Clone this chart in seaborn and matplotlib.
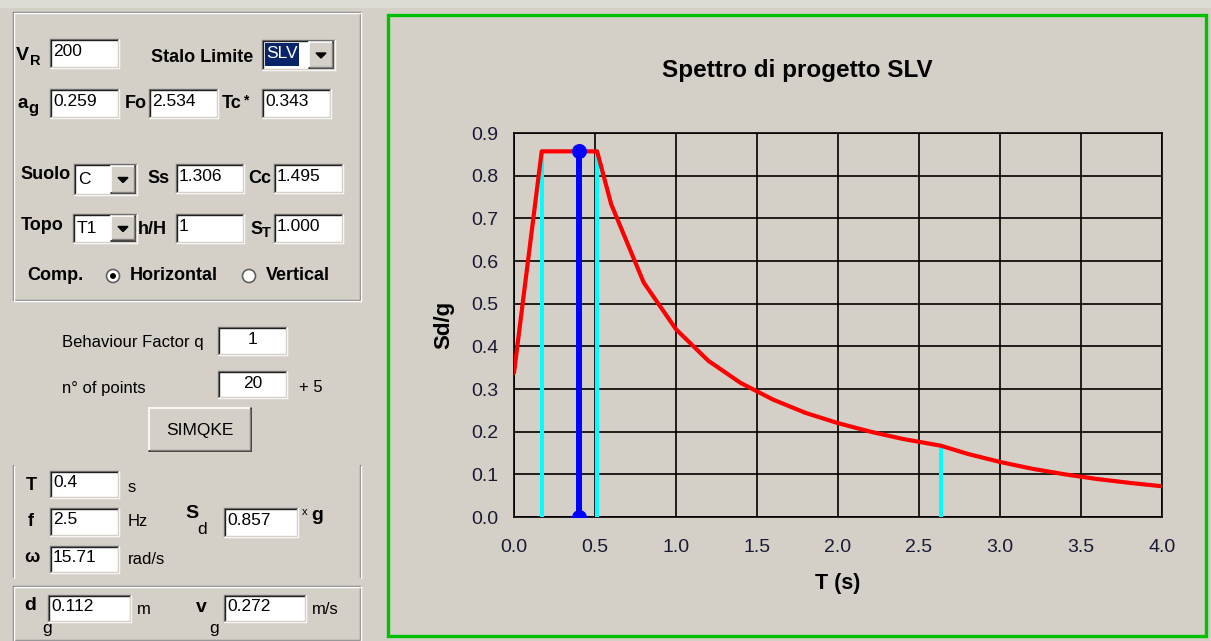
import matplotlib
matplotlib.use("Agg")
import matplotlib.pyplot as plt
import matplotlib.patches as mpatches
from matplotlib.lines import Line2D
import seaborn as sns
import pandas as pd

# ---------------- data ----------------
T_spec = [0.0, 0.171, 0.513, 0.6, 0.8, 1.0, 1.2, 1.4, 1.6, 1.8, 2.0, 2.2, 2.4,
          2.636, 2.8, 3.0, 3.2, 3.4, 3.6, 3.8, 4.0]
Sd_spec = [0.338, 0.857, 0.857, 0.733, 0.550, 0.440, 0.366, 0.314, 0.275, 0.244,
           0.220, 0.200, 0.183, 0.167, 0.148, 0.129, 0.113, 0.100, 0.089, 0.080, 0.072]
corner_T = [0.171, 0.513, 2.636]
corner_Sd = [0.857, 0.857, 0.167]
sel_T = [0.4, 0.4]
sel_Sd = [0.0, 0.857]
x_ticks = [0.0, 0.5, 1.0, 1.5, 2.0, 2.5, 3.0, 3.5, 4.0]
y_ticks = [0.0, 0.1, 0.2, 0.3, 0.4, 0.5, 0.6, 0.7, 0.8, 0.9]

BG = "#D4D0C8"
sns.set_style("white", {"axes.facecolor": BG, "figure.facecolor": BG,
                        "text.color": "black", "axes.labelcolor": "black"})
plt.rcParams["font.family"] = ["Liberation Sans", "DejaVu Sans"]
plt.rcParams["text.color"] = "black"
plt.rcParams["axes.labelcolor"] = "black"
plt.rcParams["axes.titlecolor"] = "black"

W, H = 1211, 641
fig = plt.figure(figsize=(W / 100, H / 100), dpi=100, facecolor=BG)

def fx(x):
    return x / W

def fy(y):
    return 1 - y / H

def rect(x0, y0, x1, y1, fc="none", ec="none", lw=1.0, z=1):
    r = mpatches.Rectangle((fx(x0), fy(y1)), (x1 - x0) / W, (y1 - y0) / H,
                           transform=fig.transFigure, facecolor=fc,
                           edgecolor=ec, linewidth=lw, zorder=z)
    fig.add_artist(r)

def line(xs, ys, c, lw=1.0, z=2):
    fig.add_artist(Line2D([fx(v) for v in xs], [fy(v) for v in ys],
                          transform=fig.transFigure, color=c, linewidth=lw, zorder=z))

def txt(x, y, s, size=12, bold=False, ha="left", color="black", z=5, **kw):
    fig.text(fx(x), fy(y), s, fontsize=size, fontweight="bold" if bold else "normal",
             ha=ha, va="center", color=color, zorder=z, **kw)

def sunken(x0, y0, x1, y1, fc="white"):
    rect(x0, y0, x1, y1, fc=fc, z=2)
    line([x0, x1], [y0, y0], "#808080", 1.0, 3)
    line([x0, x0], [y0, y1], "#808080", 1.0, 3)
    line([x0 + 1, x1 - 1], [y0 + 1, y0 + 1], "#202020", 1.0, 3)
    line([x0 + 1, x0 + 1], [y0 + 1, y1 - 1], "#202020", 1.0, 3)
    line([x0, x1], [y1, y1], "#FFFFFF", 1.0, 3)
    line([x1, x1], [y0, y1], "#FFFFFF", 1.0, 3)
    line([x0 + 1, x1 - 1], [y1 - 1, y1 - 1], BG, 1.0, 3)
    line([x1 - 1, x1 - 1], [y0 + 1, y1 - 1], BG, 1.0, 3)

def raised(x0, y0, x1, y1):
    rect(x0, y0, x1, y1, fc=BG, z=3)
    line([x0, x1], [y0, y0], "#FFFFFF", 1.2, 4)
    line([x0, x0], [y0, y1], "#FFFFFF", 1.2, 4)
    line([x0, x1], [y1, y1], "#202020", 1.2, 4)
    line([x1, x1], [y0, y1], "#202020", 1.2, 4)
    line([x0 + 1, x1 - 1], [y1 - 1.5, y1 - 1.5], "#808080", 1.0, 4)
    line([x1 - 1.5, x1 - 1.5], [y0 + 1, y1 - 1], "#808080", 1.0, 4)

def edit(x0, y0, x1, y1, s, center=False, size=12.5):
    sunken(x0, y0, x1, y1)
    if center:
        txt((x0 + x1) / 2, (y0 + y1) / 2 - 1, s, size=size, ha="center")
    else:
        txt(x0 + 3, (y0 + y1) / 2 - 2, s, size=size)

def combo(x0, y0, x1, y1, s, selected=False):
    sunken(x0, y0, x1, y1)
    bx0 = x1 - 26
    raised(bx0, y0 + 2, x1 - 2, y1 - 2)
    cx, cy = (bx0 + x1 - 2) / 2, (y0 + y1) / 2
    tri = mpatches.Polygon([(fx(cx - 5), fy(cy - 2)), (fx(cx + 5), fy(cy - 2)),
                            (fx(cx), fy(cy + 3))], closed=True,
                           transform=fig.transFigure, facecolor="black",
                           edgecolor="black", zorder=6)
    fig.add_artist(tri)
    if selected:
        rect(x0 + 3, y0 + 3, bx0 - 10, y1 - 4, fc="#0A246A", z=4)
        txt(x0 + 4, (y0 + y1) / 2 - 1, s, size=12.5, color="white")
    else:
        txt(x0 + 4, (y0 + y1) / 2, s, size=12.5)

def groupbox(x0, y0, x1, y1, sides="ltrb"):
    for col, off in (("#808080", 0), ("#FFFFFF", 1)):
        if "t" in sides:
            line([x0 + off, x1 + off], [y0 + off, y0 + off], col, 1.0, 2)
        if "b" in sides:
            line([x0 + off, x1 + off], [y1 + off, y1 + off], col, 1.0, 2)
        if "l" in sides:
            line([x0 + off, x0 + off], [y0 + off, y1 + off], col, 1.0, 2)
        if "r" in sides:
            line([x1 + off, x1 + off], [y0 + off, y1 + off], col, 1.0, 2)

def radio(cx, cy, selected):
    c = mpatches.Ellipse((fx(cx), fy(cy)), 13 / W, 13 / H, transform=fig.transFigure,
                         facecolor="white", edgecolor="#606060", linewidth=1.2, zorder=4)
    fig.add_artist(c)
    if selected:
        d = mpatches.Ellipse((fx(cx), fy(cy)), 4.5 / W, 4.5 / H, transform=fig.transFigure,
                             facecolor="black", edgecolor="black", zorder=5)
        fig.add_artist(d)

# top light strip
rect(0, 0, W, 8, fc="#DEDBD5", z=0)

# ---------------- left panel ----------------
LB = 13
groupbox(13, 12, 360, 300)
txt(16, 56, "V", size=14, bold=True)
txt(30, 61, "R", size=10.5, bold=True)
edit(50, 39, 119, 68, "200")
txt(151, 57, "Stalo Limite", size=LB, bold=True)
combo(262, 40, 335, 70, "SLV", selected=True)

txt(17, 103, "a", size=13.5, bold=True)
txt(28, 109, "g", size=12, bold=True)
edit(50, 89, 119, 118, "0.259")
txt(125, 104, "Fo", size=LB, bold=True)
edit(149, 89, 218, 118, "2.534")
txt(222, 104, "Tc", size=LB, bold=True)
txt(243, 100, "*", size=10, bold=True)
edit(262, 89, 331, 118, "0.343")

txt(20, 175, "Suolo", size=LB, bold=True)
combo(74, 164, 137, 195, "C")
txt(147, 178, "Ss", size=LB, bold=True)
edit(176, 164, 244, 193, "1.306")
txt(248, 178, "Cc", size=LB, bold=True)
edit(274, 164, 343, 193, "1.495")

txt(21, 226, "Topo", size=LB, bold=True)
combo(73, 214, 137, 243, "T1")
txt(138, 229, "h/H", size=LB, bold=True)
edit(176, 214, 244, 243, "1")
txt(250, 229, "S", size=LB, bold=True)
txt(262, 233, "T", size=10.5, bold=True)
edit(274, 214, 343, 243, "1.000")

txt(27, 276, "Comp.", size=LB, bold=True)
radio(113, 276, True)
txt(130, 276, "Horizontal", size=LB, bold=True)
radio(249, 276, False)
txt(266, 276, "Vertical", size=LB, bold=True)

txt(62, 343, "Behaviour Factor q", size=12)
edit(218, 327, 287, 355, "1", center=True)
txt(62, 388, "n\u00b0 of points", size=12)
edit(218, 371, 287, 398, "20", center=True)
txt(299, 388, "+ 5", size=12)

raised(149, 408, 251, 451)
txt(200, 430, "SIMQKE", size=12.5, ha="center")

groupbox(13, 465, 360, 577, sides="lr")
txt(26, 485, "T", size=13, bold=True)
edit(50, 471, 119, 498, "0.4")
txt(128, 488, "s", size=12)
txt(28, 522, "f", size=13, bold=True)
edit(50, 508, 119, 536, "2.5")
txt(128, 522, "Hz", size=12)
txt(185, 514, "S", size=14, bold=True)
txt(197, 529, "d", size=12.5)
edit(224, 508, 298, 537, "0.857")
txt(302, 512, "x", size=8)
txt(311, 515, "g", size=14, bold=True)
txt(24, 558, "\u03c9", size=13, bold=True)
edit(50, 546, 119, 573, "15.71")
txt(128, 560, "rad/s", size=12)

groupbox(13, 586, 360, 640)
txt(24, 606, "d", size=14, bold=True)
txt(42, 629, "g", size=12.5)
edit(48, 595, 131, 622, "0.112")
txt(137, 610, "m", size=12)
txt(196, 607, "v", size=14, bold=True)
txt(209, 629, "g", size=12.5)
edit(224, 595, 306, 622, "0.272")
txt(312, 610, "m/s", size=12)

# ---------------- chart frame ----------------
rect(388, 15, 1206, 636, fc="none", ec="#00C000", lw=2.4, z=1)

ax = fig.add_axes([fx(514), fy(517), 648 / W, 384 / H])
ax.set_facecolor(BG)
ax.set_axisbelow(True)

df_spec = pd.DataFrame({"T": T_spec, "Sd": Sd_spec})
for t, s in zip(corner_T, corner_Sd):
    sns.lineplot(x=[t, t], y=[0, s], ax=ax, color="#00FFFF", linewidth=2.9,
                 estimator=None, sort=False, zorder=3)
sns.lineplot(data=df_spec, x="T", y="Sd", ax=ax, color="#FF0000", linewidth=3.0,
             estimator=None, sort=False, zorder=4)
sns.lineplot(x=sel_T, y=sel_Sd, ax=ax, color="#0000FF", linewidth=4.3,
             estimator=None, sort=False, marker="o", markersize=10,
             markeredgecolor="#0000FF", zorder=5)

ax.set_xlim(0, 4.0)
ax.set_ylim(0, 0.9)
ax.set_xticks(x_ticks)
ax.set_yticks(y_ticks)
ax.set_xticklabels([f"{v:.1f}" for v in x_ticks])
ax.set_yticklabels([f"{v:.1f}" for v in y_ticks])
ax.grid(True, color="black", linewidth=1.2)
for sp in ax.spines.values():
    sp.set_color("black")
    sp.set_linewidth(1.2)
ax.tick_params(axis="both", direction="out", length=5.5, width=1.2, color="black",
               labelsize=14, labelcolor="#1A1A33")
ax.tick_params(axis="y", pad=6)
ax.tick_params(axis="x", pad=10.5)

ax.set_xlabel("T (s)", fontsize=15.5, fontweight="bold", va="center", color="black")
ax.xaxis.set_label_coords((838 - 514) / 648, (517 - 583) / 384)
ax.set_ylabel("Sd/g", fontsize=16, fontweight="bold", va="center", color="black")
ax.yaxis.set_label_coords((444 - 514) / 648, (517 - 325) / 384)
ax.set_title("Spettro di progetto SLV", fontsize=17.5, fontweight="bold", color="black",
             x=(797 - 514) / 648, y=(517 - 70) / 384, va="center", pad=0)

fig.savefig("out.png", dpi=100, facecolor=BG)
